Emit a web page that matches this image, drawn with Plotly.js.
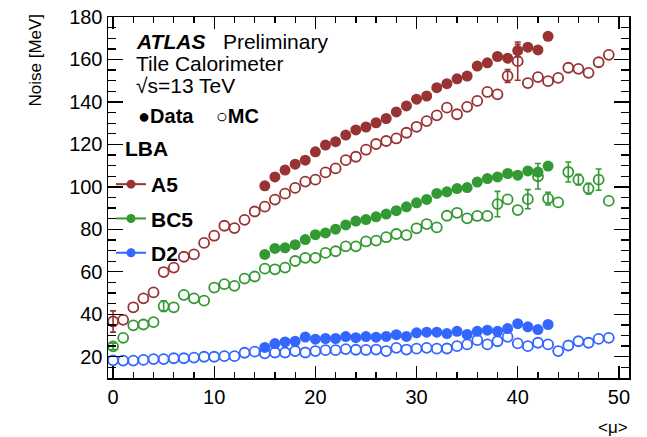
<!DOCTYPE html>
<html>
<head>
<meta charset="utf-8">
<script src="https://cdn.plot.ly/plotly-3.0.1.min.js"></script>
<style>html,body{margin:0;padding:0;background:#fff;}#chart{width:647px;height:437px;}</style>
</head>
<body>
<div id="chart"></div>
<script>
// ---- data ----
const muMC = [0,1,2,3,4,5,6,7,8,9,10,11,12,13,14,15,16,17,18,19,20,21,22,23,24,25,26,27,28,29,30,31,32,33,34,35,36,37,38,39,40,41,42,43,44,45,46,47,48,49];
const muData = [15,16,17,18,19,20,21,22,23,24,25,26,27,28,29,30,31,32,33,34,35,36,37,38,39,40,41,42,43];

const a5MC = [36.6,37.4,43.3,47.5,50.3,59.9,62,67.1,68.2,73.6,77,81.7,80.6,84.5,88.4,90.7,94,96.8,99.5,102.5,103.4,106.8,108.7,112.6,114.2,117.5,120.2,121.6,122.8,125.5,128.3,131,133.7,137.3,134.2,137.7,140.5,144.7,143.6,152.2,159.2,148.9,151.7,149.8,151.3,156.1,155.6,153.7,158.7,162.2];
const a5MCerr = [5,0,0,0,0,0,0,0,0,0,0,0,0,0,0,0,0,0,0,0,0,0,0,0,0,0,0,0,0,0,0,0,0,0,0,0,0,0,0,3,9,0,0,0,0,0,0,0,0,0];
const a5Data = [100.5,104.7,107.9,110.7,112.6,116.5,119.7,121.3,124.4,126.8,128.2,130.2,132.2,135.3,138.1,141.3,142.8,146.7,148.6,150.9,152.2,156.9,158.4,161.4,160.6,164.2,165.8,164.5,170.9];
const a5DataErr = [0,0,0,0,0,0,0,0,0,0,0,0,0,0,0,0,0,0,0,0,0,0,0,0,0,3,0,0,0];

const bc5MC = [24.9,28.9,34.8,35.2,36.3,43.8,43.3,49.1,47.5,46.4,52.6,54.2,53.4,56.8,57.8,61.5,61.2,62,65.1,66.6,66.6,68.9,69.7,72,72,74.3,74.7,76.3,77.8,77.3,80.5,82.5,80.9,86.4,87.8,85.2,86.3,86.3,91.9,94.1,89.1,94.2,105,94.5,92.7,107,103.4,99.2,103.4,93.4];
const bc5MCerr = [1.5,0,0,0,0,2.5,0,0,0,0,0,0,0,0,0,0,0,0,0,0,0,0,0,0,0,0,0,0,0,0,0,0,0,0,0,0,0,0,6,0,0,4.5,6,3,0,4.7,2.5,2.5,5,0];
const bc5Data = [68.2,71,71.3,72.8,75.2,77.5,78.3,80.1,82.1,83.9,84.6,85.9,87.2,88.8,90.6,92.5,94.1,96.9,97.7,99.2,99.7,102.3,103.9,104.7,106.3,105.5,107.5,107,109.8];

const d2MC = [18.3,18.2,18.2,18.5,18.9,18.9,19.3,19.3,19.6,20,20,20.3,20.3,21.9,22.4,21.6,22,22,22.7,22,22.7,23.1,23.1,23.6,23.3,23.2,23.4,22.7,24.2,23.4,23.8,24.2,23.8,23.9,25,25.8,27.8,25.8,27.3,29.4,26.3,25,26.6,25.8,22.7,25.3,27.3,26.6,28.4,28.9];
const d2Data = [24.4,26.2,27,27.3,29.3,28.3,28.6,28.6,29.5,29,29.5,29.2,29.6,30.4,29.6,31.3,31.6,31.6,30.9,32,30.5,32,32.5,32,33.3,35.6,34.1,32.8,35.2];

const cellNames = ['A5','BC5','D2'];
const colors = ['#993333','#339933','#3366ff'];

// ---- layout helpers (pixel -> paper) ----
const ML = 108, MR = 18, MT = 17, MB = 59, W = 647, H = 437;
const PW = W - ML - MR, PH = H - MT - MB;
const px = X => (X - ML) / PW;
const py = Y => (H - MB - Y) / PH;

// zero error = no error bar drawn
const errArr = e => e.map(v => (v > 0 ? v : NaN));

function mcTrace(y, err, c) {
  const t = {x: muMC, y: y, type: 'scatter', mode: 'markers', showlegend: false, hoverinfo: 'skip',
    marker: {symbol: 'circle-open', size: 10, color: c, line: {width: 1.8, color: c}}};
  if (err) t.error_y = {type: 'data', array: errArr(err), visible: true, color: c, thickness: 1.6, width: 3};
  return t;
}
function dataTrace(y, err, c) {
  const t = {x: muData, y: y, type: 'scatter', mode: 'markers', showlegend: false, hoverinfo: 'skip',
    marker: {symbol: 'circle', size: 11, color: c, line: {width: 0}}};
  if (err) t.error_y = {type: 'data', array: errArr(err), visible: true, color: c, thickness: 1.6, width: 3};
  return t;
}

const traces = [
  mcTrace(a5MC, a5MCerr, colors[0]),
  mcTrace(bc5MC, bc5MCerr, colors[1]),
  mcTrace(d2MC, null, colors[2]),
  dataTrace(a5Data, a5DataErr, colors[0]),
  dataTrace(bc5Data, null, colors[1]),
  dataTrace(d2Data, null, colors[2])
];
cellNames.forEach((n, i) => {
  traces.push({x: [null], y: [null], type: 'scatter', mode: 'lines+markers', name: '<b>' + n + '</b>',
    legendgroup: n, line: {color: colors[i], width: 2}, marker: {symbol: 'circle', size: 9, color: colors[i]}});
});

const font = 'Liberation Sans, Arial, Helvetica, sans-serif';
const ann = (text, X, Y, opts) => Object.assign({text: text, x: px(X), y: py(Y), xref: 'paper', yref: 'paper',
  showarrow: false, xanchor: 'left', yanchor: 'middle', font: {family: font, size: 21, color: '#000'}}, opts || {});

const layout = {
  width: W, height: H,
  margin: {l: ML, r: MR, t: MT, b: MB},
  paper_bgcolor: '#fff', plot_bgcolor: '#fff',
  font: {family: font, color: '#000'},
  xaxis: {range: [-0.5, 51], tick0: 0, dtick: 10, ticks: 'inside', ticklen: 12, tickwidth: 1.3, tickcolor: '#000',
    minor: {dtick: 2, ticks: 'inside', ticklen: 6, tickwidth: 1.3, tickcolor: '#000'},
    showline: true, linecolor: '#000', linewidth: 1.5, mirror: 'allticks', showgrid: false, zeroline: false,
    tickfont: {family: font, size: 20, color: '#000'}},
  yaxis: {range: [10, 180], tick0: 0, dtick: 20, ticks: 'inside', ticklen: 15, tickwidth: 1.3, tickcolor: '#000',
    minor: {dtick: 5, ticks: 'inside', ticklen: 8, tickwidth: 1.3, tickcolor: '#000'},
    showline: true, linecolor: '#000', linewidth: 1.5, mirror: 'allticks', showgrid: false, zeroline: false,
    tickfont: {family: font, size: 20, color: '#000'}},
  showlegend: true,
  legend: {x: px(111), y: py(164), xanchor: 'left', yanchor: 'top', bgcolor: 'rgba(0,0,0,0)', borderwidth: 0,
    traceorder: 'grouped', tracegroupgap: 4, itemwidth: 30, font: {family: font, size: 21, color: '#000'}},
  annotations: [
    ann('<b><i>ATLAS</i></b>&nbsp;&nbsp; Preliminary', 134, 41),
    ann('Tile Calorimeter', 134, 63),
    ann('√s=13 TeV', 134, 86),
    ann('<b>●Data&nbsp;&nbsp;&nbsp;&nbsp;○MC</b>', 136, 116, {font: {family: font, size: 20, color: '#000'}}),
    ann('<b>LBA</b>', 123, 149, {font: {family: font, size: 21, color: '#000'}}),
    ann('Noise [MeV]', 35, 12, {textangle: -90, xanchor: 'center', yanchor: 'top', font: {family: font, size: 17, color: '#000'}}),
    ann('<μ>', 630, 427, {xanchor: 'right', font: {family: font, size: 17, color: '#000'}})
  ]
};

Plotly.newPlot('chart', traces, layout, {displayModeBar: false, staticPlot: true});
</script>
</body>
</html>
